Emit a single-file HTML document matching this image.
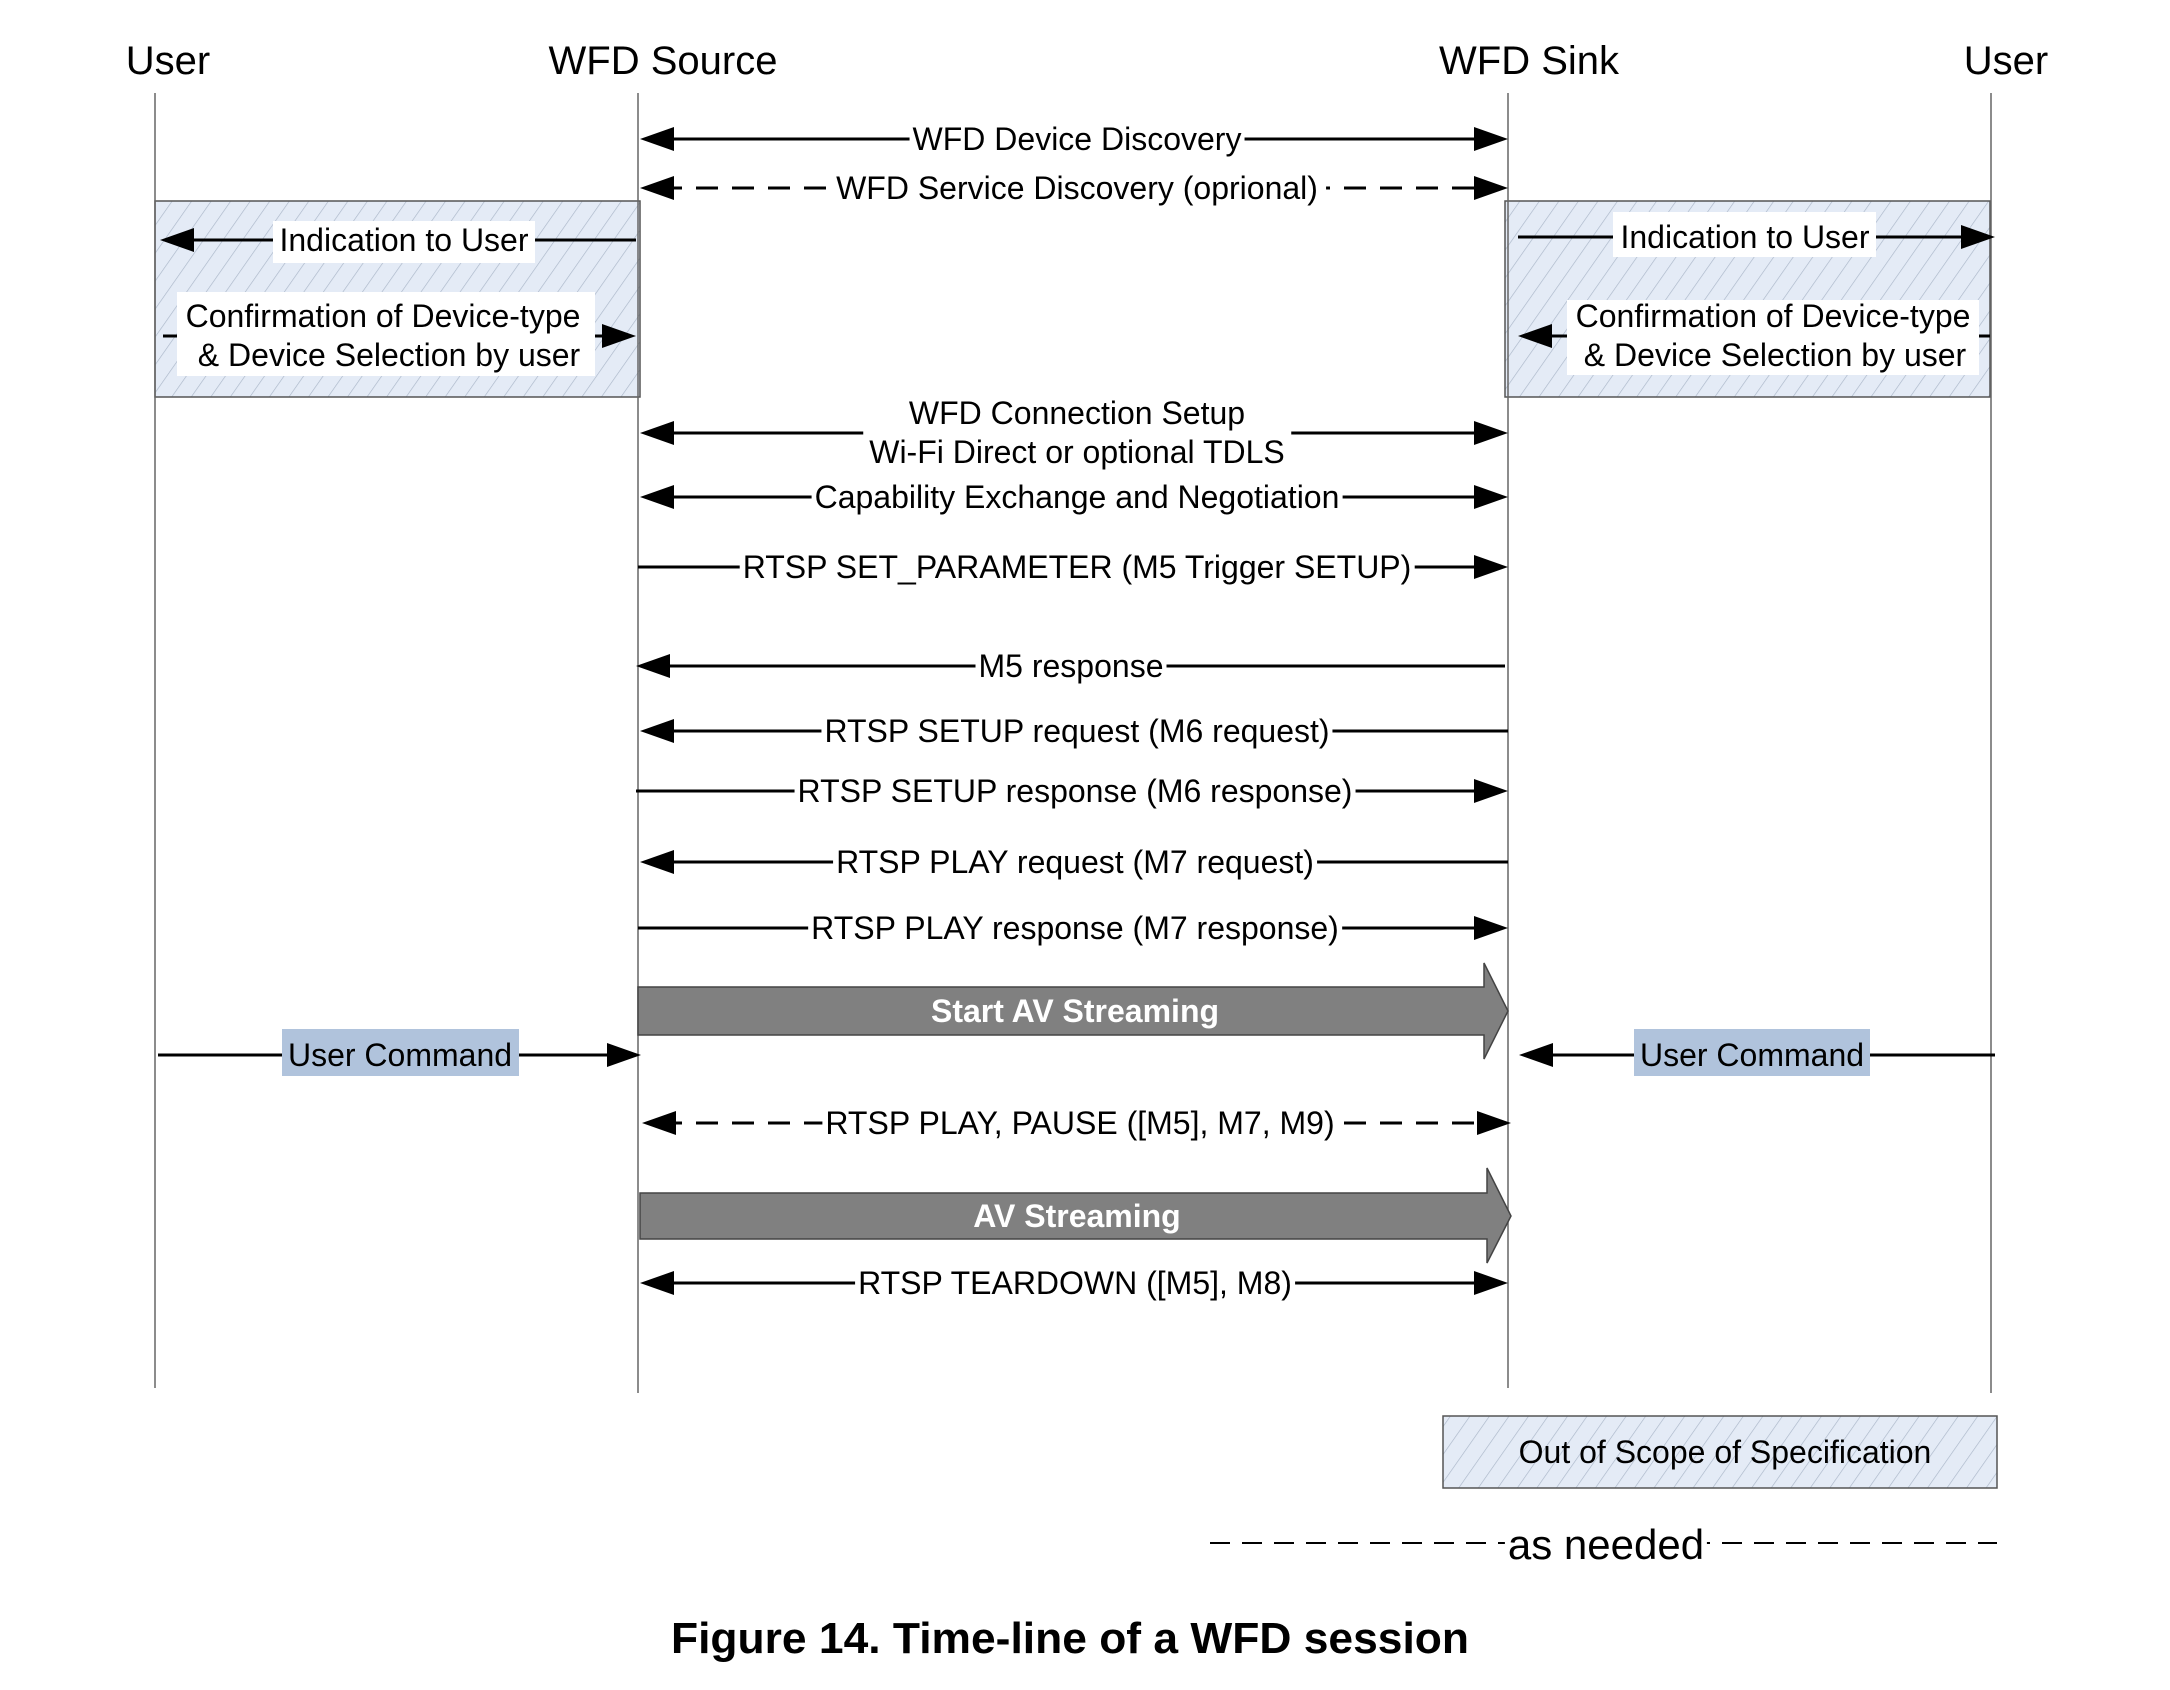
<!DOCTYPE html>
<html><head><meta charset="utf-8"><style>html,body{margin:0;padding:0;background:#fff}svg{display:block}
.w{position:relative;width:2170px;height:1690px;overflow:hidden}
.l{position:absolute;transform:translate(-50%,-50%);background:#fff;font:32px "Liberation Sans",Arial,sans-serif;line-height:36px;white-space:nowrap;padding:0 3px;text-align:center;color:#000}
</style></head>
<body><div class="w">
<svg width="2170" height="1690" viewBox="0 0 2170 1690" xmlns="http://www.w3.org/2000/svg" font-family="Liberation Sans, Arial, sans-serif">
<defs>
<pattern id="h" width="16" height="16" patternUnits="userSpaceOnUse" patternTransform="rotate(35)">
<rect width="16" height="16" fill="#e4ebf6"/>
<line x1="0" y1="0" x2="0" y2="16" stroke="#aab6c8" stroke-width="1.3"/>
</pattern>
</defs>
<rect width="2170" height="1690" fill="#fff"/>
<g font-size="40" text-anchor="middle" fill="#000">
<text x="168" y="74">User</text>
<text x="663" y="74">WFD Source</text>
<text x="1529" y="74">WFD Sink</text>
<text x="2006" y="74">User</text>
</g>
<rect x="155" y="201" width="485" height="196" fill="url(#h)" stroke="#555" stroke-width="1.5"/>
<rect x="1505" y="201" width="485" height="196" fill="url(#h)" stroke="#555" stroke-width="1.5"/>
<rect x="1443" y="1416" width="554" height="72" fill="url(#h)" stroke="#555" stroke-width="1.5"/>
<g stroke="#666" stroke-width="1.5">
<line x1="155" y1="93" x2="155" y2="1388"/>
<line x1="638" y1="93" x2="638" y2="1393"/>
<line x1="1508" y1="93" x2="1508" y2="1388"/>
<line x1="1991" y1="93" x2="1991" y2="1393"/>
</g>
<g stroke="#000" stroke-width="3" fill="none">
<line x1="660" y1="139" x2="1490" y2="139"/>
<line x1="660" y1="188" x2="1490" y2="188" stroke-dasharray="22,14"/>
<line x1="175" y1="240" x2="636" y2="240"/>
<line x1="163" y1="336" x2="620" y2="336"/>
<line x1="1518" y1="237" x2="1975" y2="237"/>
<line x1="1535" y1="336" x2="1990" y2="336"/>
<line x1="660" y1="433" x2="1490" y2="433"/>
<line x1="660" y1="497" x2="1490" y2="497"/>
<line x1="638" y1="567" x2="1490" y2="567"/>
<line x1="655" y1="666" x2="1505" y2="666"/>
<line x1="660" y1="731" x2="1508" y2="731"/>
<line x1="636" y1="791" x2="1490" y2="791"/>
<line x1="660" y1="862" x2="1508" y2="862"/>
<line x1="638" y1="928" x2="1490" y2="928"/>
<line x1="158" y1="1055" x2="620" y2="1055"/>
<line x1="1540" y1="1055" x2="1995" y2="1055"/>
<line x1="660" y1="1123" x2="1490" y2="1123" stroke-dasharray="22,14"/>
<line x1="660" y1="1283" x2="1490" y2="1283"/>
<line x1="1210" y1="1543" x2="1997" y2="1543" stroke-dasharray="20,12" stroke-width="2"/>
</g>
<g fill="#000">
<polygon points="640,139 674,127 674,151"/><polygon points="1508,139 1474,127 1474,151"/>
<polygon points="640,188 674,176 674,200"/><polygon points="1508,188 1474,176 1474,200"/>
<polygon points="160,240 194,228 194,252"/>
<polygon points="636,336 602,324 602,348"/>
<polygon points="1995,237 1961,225 1961,249"/>
<polygon points="1518,336 1552,324 1552,348"/>
<polygon points="640,433 674,421 674,445"/><polygon points="1508,433 1474,421 1474,445"/>
<polygon points="640,497 674,485 674,509"/><polygon points="1508,497 1474,485 1474,509"/>
<polygon points="1508,567 1474,555 1474,579"/>
<polygon points="636,666 670,654 670,678"/>
<polygon points="640,731 674,719 674,743"/>
<polygon points="1508,791 1474,779 1474,803"/>
<polygon points="640,862 674,850 674,874"/>
<polygon points="1508,928 1474,916 1474,940"/>
<polygon points="641,1055 607,1043 607,1067"/>
<polygon points="1519,1055 1553,1043 1553,1067"/>
<polygon points="642,1123 676,1111 676,1135"/><polygon points="1511,1123 1477,1111 1477,1135"/>
<polygon points="640,1283 674,1271 674,1295"/><polygon points="1508,1283 1474,1271 1474,1295"/>
</g>
<polygon points="638,987 1484,987 1484,963 1508,1011 1484,1059 1484,1035 638,1035" fill="#808080" stroke="#444" stroke-width="1.5"/>
<polygon points="640,1193 1487,1193 1487,1168 1511,1216 1487,1263 1487,1239 640,1239" fill="#808080" stroke="#444" stroke-width="1.5"/>
<g font-size="32" font-weight="bold" fill="#fff" text-anchor="middle">
<text x="1075" y="1022">Start AV Streaming</text>
<text x="1077" y="1227">AV Streaming</text>
</g>
<g fill="#fff">
<rect x="273" y="221" width="262" height="42"/>
<rect x="177" y="292" width="418" height="84"/>
<rect x="1613" y="212" width="263" height="45"/>
<rect x="1567" y="300" width="412" height="75"/>
</g>
<g fill="#b0c3dc">
<rect x="282" y="1029" width="237" height="47"/>
<rect x="1634" y="1029" width="236" height="47"/>
</g>
<g font-size="32" text-anchor="middle" fill="#000">
<text x="404" y="251">Indication to User</text>
<text x="383" y="327">Confirmation of Device-type</text>
<text x="389" y="366">&amp; Device Selection by user</text>
<text x="1745" y="248">Indication to User</text>
<text x="1773" y="327">Confirmation of Device-type</text>
<text x="1775" y="366">&amp; Device Selection by user</text>
<text x="400" y="1066">User Command</text>
<text x="1752" y="1066">User Command</text>
<text x="1725" y="1463">Out of Scope of Specification</text>
</g>
<text x="1070" y="1653" font-size="44" font-weight="bold" text-anchor="middle" textLength="798" lengthAdjust="spacingAndGlyphs">Figure 14. Time-line of a WFD session</text>
</svg>
<div class="l" style="left:1077px;top:139px">WFD Device Discovery</div>
<div class="l" style="left:1077px;top:188px;padding:0 8px">WFD Service Discovery (oprional)</div>
<div class="l" style="left:1077px;top:433px;line-height:39px;padding:0 6px">WFD Connection Setup<br>Wi-Fi Direct or optional TDLS</div>
<div class="l" style="left:1077px;top:497px">Capability Exchange and Negotiation</div>
<div class="l" style="left:1077px;top:567px">RTSP SET_PARAMETER (M5 Trigger SETUP)</div>
<div class="l" style="left:1071px;top:666px">M5 response</div>
<div class="l" style="left:1077px;top:731px">RTSP SETUP request (M6 request)</div>
<div class="l" style="left:1075px;top:791px">RTSP SETUP response (M6 response)</div>
<div class="l" style="left:1075px;top:862px">RTSP PLAY request (M7 request)</div>
<div class="l" style="left:1075px;top:928px">RTSP PLAY response (M7 response)</div>
<div class="l" style="left:1080px;top:1123px">RTSP PLAY, PAUSE ([M5], M7, M9)</div>
<div class="l" style="left:1075px;top:1283px">RTSP TEARDOWN ([M5], M8)</div>
<div class="l" style="left:1606px;top:1545px;font-size:42px;line-height:46px">as needed</div>
</div>
</body></html>
